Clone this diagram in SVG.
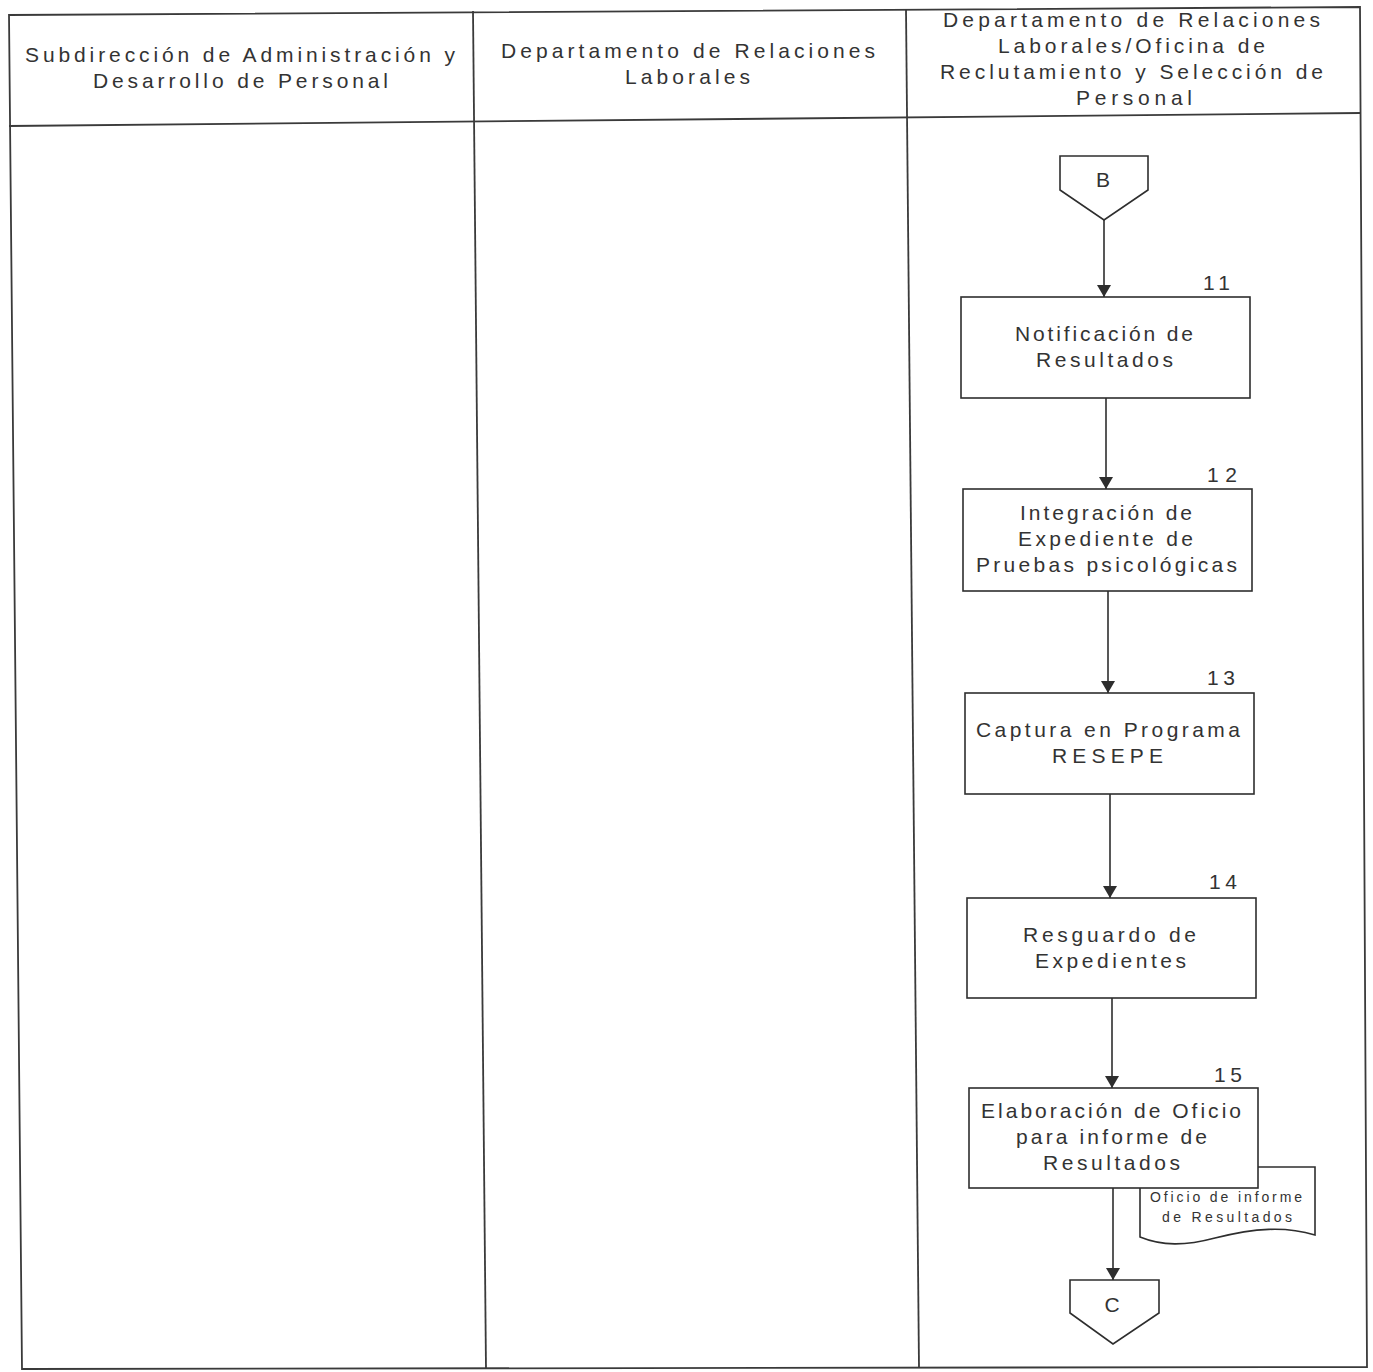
<svg xmlns="http://www.w3.org/2000/svg" width="1373" height="1372" viewBox="0 0 1373 1372">
<defs>
<style>
.frame{fill:none;stroke:#3a3a3a;stroke-width:1.8}
.box{fill:#fff;stroke:#2e2e2e;stroke-width:1.6}
.conn{fill:none;stroke:#2e2e2e;stroke-width:1.6}
.t{font-family:"Liberation Sans",Arial,sans-serif;font-size:21px;fill:#333;text-anchor:middle}
.s{font-family:"Liberation Sans",Arial,sans-serif;font-size:14px;fill:#333;text-anchor:middle}
</style>
<marker id="ah" viewBox="0 0 12 14" refX="12" refY="7" markerWidth="12" markerHeight="14" markerUnits="userSpaceOnUse" orient="auto">
<path d="M0,0 L12,7 L0,14 Z" fill="#2e2e2e"/>
</marker>
</defs>
<rect width="1373" height="1372" fill="#fff"/>
<g id="frame">
<polygon class="frame" points="9,15 1360,7 1367,1367 22,1369"/>
<line class="frame" x1="9" y1="126" x2="1361" y2="113"/>
<line class="frame" x1="473" y1="11" x2="486" y2="1369"/>
<line class="frame" x1="906" y1="9" x2="919" y2="1368"/>
</g>
<g id="headers">
<text class="t" x="240" y="62" textLength="430" lengthAdjust="spacing">Subdirección de Administración y</text>
<text class="t" x="240.5" y="88" textLength="295" lengthAdjust="spacing">Desarrollo de Personal</text>
<text class="t" x="688" y="58" textLength="374" lengthAdjust="spacing">Departamento de Relaciones</text>
<text class="t" x="687.5" y="84" textLength="125" lengthAdjust="spacing">Laborales</text>
<text class="t" x="1131.5" y="27" textLength="377" lengthAdjust="spacing">Departamento de Relaciones</text>
<text class="t" x="1131.5" y="53" textLength="267" lengthAdjust="spacing">Laborales/Oficina de</text>
<text class="t" x="1131.5" y="79" textLength="383" lengthAdjust="spacing">Reclutamiento y Selección de</text>
<text class="t" x="1134" y="105" textLength="116" lengthAdjust="spacing">Personal</text>
</g>
<g id="connectors">
<line class="conn" x1="1104" y1="220" x2="1104" y2="297" marker-end="url(#ah)"/>
<line class="conn" x1="1106" y1="398" x2="1106" y2="489" marker-end="url(#ah)"/>
<line class="conn" x1="1108" y1="591" x2="1108" y2="693" marker-end="url(#ah)"/>
<line class="conn" x1="1110" y1="794" x2="1110" y2="898" marker-end="url(#ah)"/>
<line class="conn" x1="1112" y1="998" x2="1112" y2="1088" marker-end="url(#ah)"/>
<line class="conn" x1="1113" y1="1188" x2="1113" y2="1280" marker-end="url(#ah)"/>
</g>
<g id="nodeB">
<polygon class="box" points="1060,156 1148,156 1148,190 1104,220 1060,190"/>
<text class="t" x="1103" y="187">B</text>
</g>
<g id="node11">
<rect class="box" x="961" y="297" width="289" height="101"/>
<text class="t" x="1216.5" y="290" textLength="27" lengthAdjust="spacing">11</text>
<text class="t" x="1104" y="341" textLength="178" lengthAdjust="spacing">Notificación de</text>
<text class="t" x="1104.5" y="367" textLength="137" lengthAdjust="spacing">Resultados</text>
</g>
<g id="node12">
<rect class="box" x="963" y="489" width="289" height="102"/>
<text class="t" x="1222" y="482" textLength="30" lengthAdjust="spacing">12</text>
<text class="t" x="1106" y="520" textLength="172" lengthAdjust="spacing">Integración de</text>
<text class="t" x="1105.5" y="546" textLength="175" lengthAdjust="spacing">Expediente de</text>
<text class="t" x="1106.5" y="572" textLength="261" lengthAdjust="spacing">Pruebas psicológicas</text>
</g>
<g id="node13">
<rect class="box" x="965" y="693" width="289" height="101"/>
<text class="t" x="1221" y="685" textLength="28" lengthAdjust="spacing">13</text>
<text class="t" x="1108" y="737" textLength="264" lengthAdjust="spacing">Captura en Programa</text>
<text class="t" x="1107.5" y="763" textLength="111" lengthAdjust="spacing">RESEPE</text>
</g>
<g id="node14">
<rect class="box" x="967" y="898" width="289" height="100"/>
<text class="t" x="1223" y="889" textLength="28" lengthAdjust="spacing">14</text>
<text class="t" x="1109.5" y="942" textLength="173" lengthAdjust="spacing">Resguardo de</text>
<text class="t" x="1110.5" y="968" textLength="151" lengthAdjust="spacing">Expedientes</text>
</g>
<g id="doc15">
<path class="box" d="M1140,1167 L1315,1167 L1315,1235 C1285,1226 1255,1228 1215,1238 C1185,1246 1162,1246 1140,1237 Z"/>
<text class="s" x="1226" y="1202" textLength="152" lengthAdjust="spacing">Oficio de informe</text>
<text class="s" x="1227" y="1222" textLength="130" lengthAdjust="spacing">de Resultados</text>
</g>
<g id="node15">
<rect class="box" x="969" y="1088" width="289" height="100"/>
<text class="t" x="1228" y="1082" textLength="28" lengthAdjust="spacing">15</text>
<text class="t" x="1111" y="1118" textLength="260" lengthAdjust="spacing">Elaboración de Oficio</text>
<text class="t" x="1111.5" y="1144" textLength="191" lengthAdjust="spacing">para informe de</text>
<text class="t" x="1111.5" y="1170" textLength="137" lengthAdjust="spacing">Resultados</text>
</g>
<g id="nodeC">
<polygon class="box" points="1070,1280 1159,1280 1159,1313 1113,1344 1070,1313"/>
<text class="t" x="1112" y="1312">C</text>
</g>
</svg>
